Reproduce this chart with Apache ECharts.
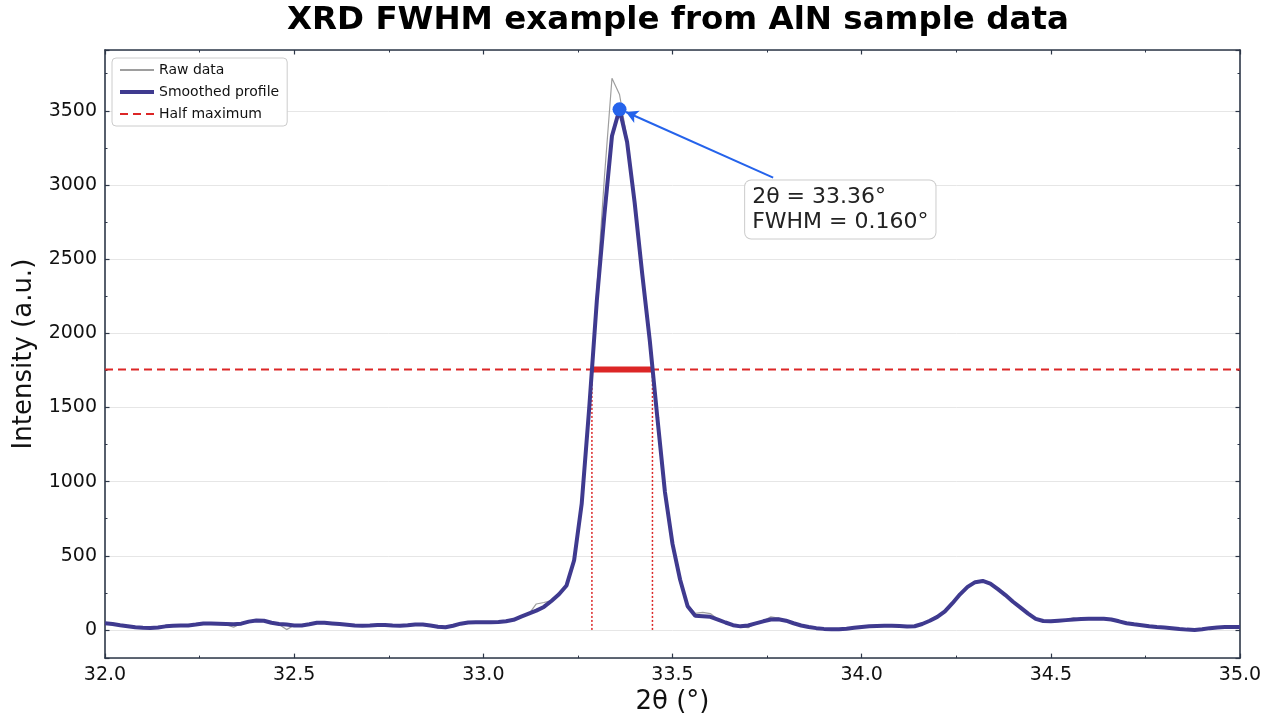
<!DOCTYPE html>
<html>
<head>
<meta charset="utf-8">
<script src="https://cdn.jsdelivr.net/npm/echarts@6/dist/echarts.min.js"></script>
<style>
  html, body { margin: 0; padding: 0; background: #fff; }
  #chart { width: 1280px; height: 720px; }
</style>
</head>
<body>
<div id="chart"></div>
<script>
// 2theta positions (deg)
var twoTheta = [
  32.00, 32.02, 32.04, 32.06, 32.08, 32.10, 32.12, 32.14, 32.16, 32.18,
  32.20, 32.22, 32.24, 32.26, 32.28, 32.30, 32.32, 32.34, 32.36, 32.38,
  32.40, 32.42, 32.44, 32.46, 32.48, 32.50, 32.52, 32.54, 32.56, 32.58,
  32.60, 32.62, 32.64, 32.66, 32.68, 32.70, 32.72, 32.74, 32.76, 32.78,
  32.80, 32.82, 32.84, 32.86, 32.88, 32.90, 32.92, 32.94, 32.96, 32.98,
  33.00, 33.02, 33.04, 33.06, 33.08, 33.10, 33.12, 33.14, 33.16, 33.18,
  33.20, 33.22, 33.24, 33.26, 33.28, 33.30, 33.32, 33.34, 33.36, 33.38,
  33.40, 33.42, 33.44, 33.46, 33.48, 33.50, 33.52, 33.54, 33.56, 33.58,
  33.60, 33.62, 33.64, 33.66, 33.68, 33.70, 33.72, 33.74, 33.76, 33.78,
  33.80, 33.82, 33.84, 33.86, 33.88, 33.90, 33.92, 33.94, 33.96, 33.98,
  34.00, 34.02, 34.04, 34.06, 34.08, 34.10, 34.12, 34.14, 34.16, 34.18,
  34.20, 34.22, 34.24, 34.26, 34.28, 34.30, 34.32, 34.34, 34.36, 34.38,
  34.40, 34.42, 34.44, 34.46, 34.48, 34.50, 34.52, 34.54, 34.56, 34.58,
  34.60, 34.62, 34.64, 34.66, 34.68, 34.70, 34.72, 34.74, 34.76, 34.78,
  34.80, 34.82, 34.84, 34.86, 34.88, 34.90, 34.92, 34.94, 34.96, 34.98,
  35.00
];

var rawIntensity = [
  48, 38, 30, 26, 16, 15, 12, 18, 22, 30,
  28, 32, 34, 45, 42, 44, 36, 18, 44, 55,
  68, 60, 50, 36, 2, 32, 28, 40, 50, 46,
  45, 38, 36, 28, 30, 28, 35, 31, 32, 26,
  34, 38, 34, 32, 14, 20, 26, 44, 48, 54,
  50, 54, 51, 60, 66, 92, 106, 175, 185, 198,
  245, 290, 480, 860, 1450, 2300, 3050, 3720, 3610, 3310,
  2860, 2420, 1930, 1450, 910, 600, 320, 170, 112, 118,
  110, 72, 48, 30, 20, 15, 46, 62, 88, 80,
  60, 46, 28, 22, 10, 8, 2, 6, 6, 16,
  18, 27, 25, 30, 26, 28, 20, 28, 38, 65,
  85, 128, 176, 244, 286, 326, 328, 315, 270, 238,
  186, 152, 106, 78, 58, 60, 60, 68, 82, 70,
  78, 74, 78, 68, 60, 42, 40, 30, 26, 18,
  18, 10, 8, 0, 2, 6, 10, 18, 18, 22,
  19
];

var smoothIntensity = [
  45, 40, 32, 25, 18, 14, 13, 17, 24, 28,
  30, 30, 36, 43, 44, 42, 40, 38, 42, 56,
  64, 62, 48, 40, 36, 30, 30, 38, 48, 48,
  44, 40, 35, 30, 28, 30, 33, 33, 30, 28,
  32, 37, 36, 30, 22, 18, 28, 42, 50, 52,
  52, 52, 53, 58, 68, 90, 110, 130, 155, 195,
  240, 300, 470, 850, 1500, 2220, 2800, 3330, 3510, 3290,
  2880, 2400, 1950, 1430, 930, 580, 340, 160, 95, 92,
  88, 70, 50, 32, 24, 30, 44, 58, 70, 72,
  62, 45, 30, 20, 12, 7, 4, 4, 8, 14,
  20, 25, 27, 28, 28, 26, 23, 25, 40, 62,
  88, 125, 180, 240, 290, 322, 330, 312, 275, 235,
  190, 150, 110, 75, 60, 58, 62, 66, 70, 73,
  75, 76, 75, 70, 58, 45, 38, 32, 25, 20,
  16, 12, 6, 2, 0, 4, 12, 17, 19, 20,
  20
];

var peakPos = 33.36
var peakHeight = 3510
var halfMax = 1755
var fwhmLeft = 33.287
var fwhmRight = 33.447
var fwhmValue = 0.160
var noteAnchor = [33.692, 3030]
var arrowTail = [33.766, 3050]
var arrowHead = [33.377, 3492]

var frameColor = '#2d3748'
var fontMain = 'DejaVu Sans'

function pairs(xs, ys) {
  return xs.map(function (x, i) { return [x, ys[i]]; });
}

var chart = echarts.init(document.getElementById('chart'))

var tickStyle = { inside: true, length: 4.5, lineStyle: { color: frameColor, width: 1.2 } }
var minorStyle = { show: true, splitNumber: 2, length: 2.5, lineStyle: { color: frameColor, width: 1 } }
var frameLine = { show: true, onZero: false, lineStyle: { color: frameColor, width: 1.6 } }

var option = {
  animation: false,
  backgroundColor: '#fff',
  textStyle: { fontFamily: fontMain },
  title: {
    text: 'XRD FWHM example from AlN sample data',
    left: 282,
    top: -1,
    textStyle: { fontFamily: fontMain, fontWeight: 'bold', fontSize: 32.5, color: '#000' }
  },
  legend: {
    data: [
      { name: 'Raw data' },
      { name: 'Smoothed profile', lineStyle: { width: 4 } },
      { name: 'Half maximum' }
    ],
    orient: 'vertical',
    left: 112,
    top: 58,
    padding: [5, 8, 5, 6],
    itemGap: 8,
    itemWidth: 34,
    itemHeight: 12,
    itemStyle: { opacity: 0 },
    backgroundColor: '#fff',
    borderColor: '#cccccc',
    borderWidth: 1,
    borderRadius: 4,
    textStyle: { fontFamily: fontMain, fontSize: 14, color: '#111' }
  },
  grid: { left: 105, right: 40, top: 50, bottom: 57 },
  xAxis: [
    {
      type: 'value',
      min: 32, max: 35, interval: 0.5,
      name: '2θ (°)',
      nameLocation: 'middle',
      nameGap: 30,
      nameTextStyle: { fontFamily: fontMain, fontSize: 26, color: '#111' },
      axisLine: frameLine,
      axisTick: tickStyle,
      minorTick: minorStyle,
      axisLabel: {
        fontFamily: fontMain, fontSize: 19, color: '#111', margin: 7,
        formatter: function (v) { return v.toFixed(1); }
      },
      splitLine: { show: false }
    },
    {
      type: 'value',
      position: 'top',
      min: 32, max: 35, interval: 0.5,
      axisLine: frameLine,
      axisTick: tickStyle,
      minorTick: minorStyle,
      axisLabel: { show: false },
      splitLine: { show: false }
    }
  ],
  yAxis: [
    {
      type: 'value',
      min: -190, max: 3910, splitNumber: 9,
      name: 'Intensity (a.u.)',
      nameLocation: 'middle',
      nameGap: 58,
      nameTextStyle: { fontFamily: fontMain, fontSize: 26, color: '#111' },
      axisLine: frameLine,
      axisTick: tickStyle,
      minorTick: minorStyle,
      axisLabel: {
        fontFamily: fontMain, fontSize: 19, color: '#111', margin: 8,
        showMinLabel: false, showMaxLabel: false,
        formatter: function (v) { return String(v); }
      },
      splitLine: { show: true, lineStyle: { color: '#e6e6e6', width: 1 } }
    },
    {
      type: 'value',
      position: 'right',
      min: -190, max: 3910, splitNumber: 9,
      axisLine: frameLine,
      axisTick: tickStyle,
      minorTick: minorStyle,
      axisLabel: { show: false },
      splitLine: { show: false }
    }
  ],
  series: [
    {
      name: 'Raw data',
      type: 'line',
      data: pairs(twoTheta, rawIntensity),
      showSymbol: false,
      symbol: 'none',
      color: '#9e9e9e',
      lineStyle: { color: '#9e9e9e', width: 1.2 },
      z: 2
    },
    {
      name: 'Smoothed profile',
      type: 'line',
      data: pairs(twoTheta, smoothIntensity),
      showSymbol: false,
      symbol: 'none',
      color: '#3f3a8f',
      lineStyle: { color: '#3f3a8f', width: 4 },
      z: 4
    },
    {
      name: 'Half maximum',
      type: 'line',
      data: [[32, halfMax], [35, halfMax]],
      showSymbol: false,
      symbol: 'none',
      color: '#dc2626',
      lineStyle: { color: '#dc2626', width: 2, type: [8, 5] },
      z: 3
    },
    {
      name: 'FWHM',
      type: 'line',
      data: [[fwhmLeft, halfMax], [fwhmRight, halfMax]],
      showSymbol: false,
      symbol: 'none',
      lineStyle: { color: '#dc2626', width: 6 },
      z: 3
    },
    {
      name: 'left edge',
      type: 'line',
      data: [[fwhmLeft, 0], [fwhmLeft, halfMax]],
      showSymbol: false,
      symbol: 'none',
      lineStyle: { color: '#dc2626', width: 1.5, type: [2, 2] },
      z: 3
    },
    {
      name: 'right edge',
      type: 'line',
      data: [[fwhmRight, 0], [fwhmRight, halfMax]],
      showSymbol: false,
      symbol: 'none',
      lineStyle: { color: '#dc2626', width: 1.5, type: [2, 2] },
      z: 3
    },
    {
      name: 'Peak',
      type: 'scatter',
      data: [[peakPos, peakHeight]],
      symbolSize: 14,
      itemStyle: { color: '#2563eb', opacity: 1 },
      z: 6,
      markLine: {
        silent: true,
        symbol: ['none', 'arrow'],
        symbolSize: [10, 12],
        label: { show: false },
        lineStyle: { color: '#2563eb', width: 2, type: 'solid' },
        data: [[{ coord: arrowTail }, { coord: arrowHead }]]
      },
      markPoint: {
        silent: true,
        symbol: 'rect',
        symbolSize: 0,
        data: [{
          coord: noteAnchor,
          label: {
            show: true,
            position: [0, 0],
            align: 'left',
            verticalAlign: 'top',
            formatter: '2θ = ' + peakPos.toFixed(2) + '°\nFWHM = ' + fwhmValue.toFixed(3) + '°',
            fontFamily: fontMain,
            fontSize: 22,
            lineHeight: 25,
            color: '#222',
            backgroundColor: '#fff',
            borderColor: '#cccccc',
            borderWidth: 1,
            borderRadius: 6,
            padding: [4, 7, 4, 7]
          }
        }]
      }
    }
  ]
};

chart.setOption(option)
</script>
</body>
</html>
